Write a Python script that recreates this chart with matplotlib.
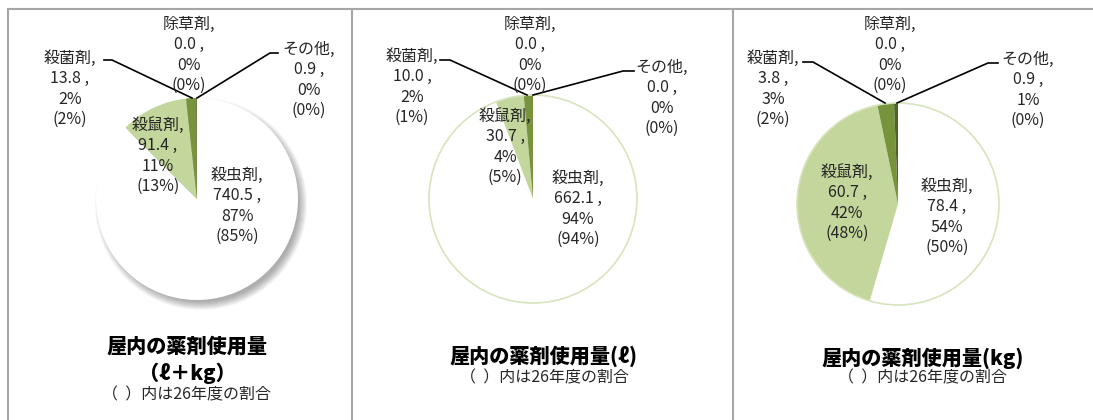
import numpy as np
import matplotlib.pyplot as plt
from matplotlib.patches import Circle

plt.rcParams['font.family'] = ['Noto Sans CJK JP', 'DejaVu Sans']

# データ
names = ['殺虫剤', '殺鼠剤', '殺菌剤', '除草剤', 'その他']
vals_total = [740.5, 91.4, 13.8, 0.0, 0.9]
pct_total = ['87%', '11%', '2%', '0%', '0%']
prev_total = ['(85%)', '(13%)', '(2%)', '(0%)', '(0%)']

vals_l = [662.1, 30.7, 10.0, 0.0, 0.0]
pct_l = ['94%', '4%', '2%', '0%', '0%']
prev_l = ['(94%)', '(5%)', '(1%)', '(0%)', '(0%)']

vals_kg = [78.4, 60.7, 3.8, 0.0, 0.9]
pct_kg = ['54%', '42%', '3%', '0%', '1%']
prev_kg = ['(50%)', '(48%)', '(2%)', '(0%)', '(0%)']

titles = ['屋内の薬剤使用量\n（ℓ＋kg）', '屋内の薬剤使用量(ℓ)', '屋内の薬剤使用量(kg)']
subtitle = '（  ）内は26年度の割合'

colors = ['white', '#c3d69b', '#77933c', '#77933c', '#4f6228']

W, H = 1093, 420
fig = plt.figure(figsize=(W / 100, H / 100), dpi=100)
ax = fig.add_axes([0, 0, 1, 1])

def Y(py):
    return H - py

# パネル設定 (中心, 半径, ラベル位置(中心からのオフセット), 引出線, タイトル位置)
panels = [
    dict(vals=vals_total, pct=pct_total, prev=prev_total, c=(197, 199), r=101, shadow=True,
         lab=[(40, 7), (-39, -43), (-127, -110), (-8, -144), (112, -119)],
         lead=[[(104, 60), (112, 60), (192, 98)], [(278, 53), (270, 53), (197, 98)]],
         tpos=(187, 347), t2=(187, 373), sub=(187, 395)),
    dict(vals=vals_l, pct=pct_l, prev=prev_l, c=(533, 199), r=104, shadow=False,
         lab=[(45, 10), (-28, -52), (-121, -112), (-3, -144), (129, -101)],
         lead=[[(440, 60), (450, 60), (527, 95)], [(634, 71), (623, 71), (533, 95)]],
         tpos=(543, 356), t2=None, sub=(545, 378)),
    dict(vals=vals_kg, pct=pct_kg, prev=prev_kg, c=(898, 204), r=101, shadow=False,
         lab=[(49, 13), (-51, -1), (-125, -115), (-8, -149), (130, -114)],
         lead=[[(803, 62), (813, 62), (885, 103)], [(998, 63), (988, 63), (897, 103)]],
         tpos=(923, 358), t2=None, sub=(923, 378)),
]

for i, p in enumerate(panels):
    cx, cy = p['c']
    r = p['r']
    if p['shadow']:
        for k in range(10):
            ax.add_patch(Circle((cx + 4, Y(cy) - 5), r + 5 - k * 0.9,
                                facecolor='#000000', alpha=0.035, lw=0, zorder=1))
    wedges, _ = ax.pie(p['vals'], center=(cx, Y(cy)), radius=r, startangle=90,
                       counterclock=False, colors=colors,
                       wedgeprops=dict(linewidth=0))
    for w in wedges:
        w.set_zorder(2)
    if not p['shadow']:
        ax.add_patch(Circle((cx, Y(cy)), r, fill=False, edgecolor='#d7e4bd',
                            lw=1.2, zorder=3))
    for j, nm in enumerate(names):
        dx, dy = p['lab'][j]
        txt = f"{nm},\n{p['vals'][j]:.1f} ,\n{p['pct'][j]}\n{p['prev'][j]}"
        ax.text(cx + dx, Y(cy + dy), txt, ha='center', va='center', fontsize=11.5,
                linespacing=1.27, color='#262626', zorder=5)
    for ln in p['lead']:
        xs = [q[0] for q in ln]
        ys = [Y(q[1]) for q in ln]
        ax.plot(xs, ys, color='black', lw=1.2, zorder=4)
    tx, ty = p['tpos']
    ax.text(tx, Y(ty), titles[i].split('\n')[0], ha='center', va='center',
            fontsize=14.5, fontweight='heavy')
    if p['t2']:
        ax.text(p['t2'][0], Y(p['t2'][1]), titles[i].split('\n')[1], ha='center',
                va='center', fontsize=14.5, fontweight='heavy')
    ax.text(p['sub'][0], Y(p['sub'][1]), subtitle, ha='center', va='center',
            fontsize=11.5, color='#262626')

# 枠線
border = '#a6a6a6'
ax.plot([8, W], [Y(9), Y(9)], color=border, lw=1.5)
for bx in [8, 352, 733]:
    ax.plot([bx, bx], [Y(9), Y(H)], color=border, lw=1.5)

ax.set_xlim(0, W)
ax.set_ylim(0, H)
ax.set_aspect('auto')
ax.axis('off')

fig.savefig('out.png', dpi=100)
